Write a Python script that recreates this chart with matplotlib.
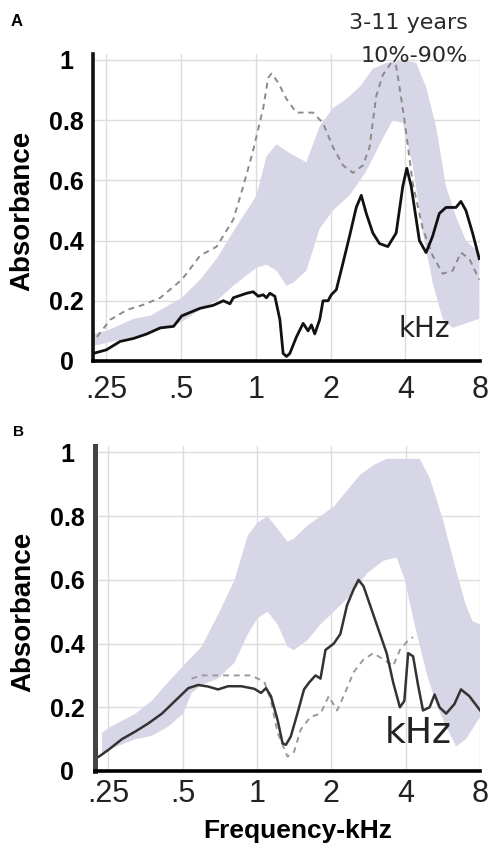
import numpy as np
import matplotlib
matplotlib.use('Agg')
import matplotlib.pyplot as plt

plt.rcParams['font.family'] = ['Liberation Sans', 'DejaVu Sans']

# frequency ticks (kHz)
tick_f = [0.25, 0.5, 1, 2, 4, 8]
tick_lbl = ['.25', '.5', '1', '2', '4', '8']
y_ticks = [0, 0.2, 0.4, 0.6, 0.8, 1]
y_lbl = ['0', '0.2', '0.4', '0.6', '0.8', '1']

# ---- panel A ----
a_hi_f = [0.221, 0.25, 0.322, 0.375, 0.503, 0.596, 0.695, 0.811, 1.006, 1.103, 1.211, 1.369,
          1.597, 1.806, 2.044, 2.312, 2.615, 2.957, 3.345, 3.964, 4.415, 4.843, 5.311, 5.825,
          6.391, 7.007, 7.928]
a_hi = [0.09, 0.10, 0.14, 0.15, 0.21, 0.27, 0.34, 0.43, 0.55, 0.68, 0.72, 0.69,
        0.66, 0.78, 0.84, 0.87, 0.91, 0.97, 0.99, 1.0, 0.99, 0.91, 0.78, 0.58,
        0.48, 0.40, 0.36]
a_lo_f = [0.221, 0.25, 0.322, 0.438, 0.503, 0.596, 0.695, 0.811, 1.006, 1.103, 1.211, 1.328,
          1.412, 1.597, 1.806, 2.044, 2.383, 2.782, 3.244, 3.558, 3.903, 4.28, 4.695, 5.149,
          5.649, 6.195, 7.007, 7.928]
a_lo = [0.05, 0.06, 0.08, 0.11, 0.13, 0.17, 0.20, 0.25, 0.31, 0.32, 0.30, 0.25,
        0.26, 0.30, 0.44, 0.50, 0.55, 0.63, 0.74, 0.80, 0.79, 0.65, 0.43, 0.26,
        0.14, 0.11, 0.125, 0.14]

a_sol_f = [0.221, 0.25, 0.284, 0.322, 0.364, 0.412, 0.466, 0.503, 0.596, 0.674, 0.739, 0.786,
           0.811, 0.918, 0.975, 1.022, 1.070, 1.103, 1.138, 1.192, 1.249, 1.287, 1.328, 1.369,
           1.456, 1.549, 1.622, 1.673, 1.725, 1.806, 1.863, 1.951, 2.012, 2.108, 2.241, 2.383,
           2.535, 2.656, 2.782, 2.957, 3.145, 3.397, 3.670, 3.903, 4.05, 4.22, 4.553, 4.843,
           5.149, 5.476, 5.825, 6.391, 6.690, 7.007, 7.454, 7.928]
a_sol = [0.025, 0.037, 0.065, 0.075, 0.09, 0.11, 0.115, 0.15, 0.175, 0.185, 0.20, 0.19,
         0.21, 0.225, 0.23, 0.215, 0.22, 0.21, 0.225, 0.215, 0.137, 0.025, 0.015, 0.025,
         0.08, 0.125, 0.10, 0.12, 0.09, 0.137, 0.20, 0.20, 0.22, 0.237, 0.325, 0.415,
         0.51, 0.55, 0.49, 0.425, 0.39, 0.38, 0.425, 0.58, 0.64, 0.58, 0.40, 0.36,
         0.415, 0.49, 0.51, 0.51, 0.53, 0.50, 0.425, 0.34]

a_dash_f = [0.229, 0.259, 0.303, 0.353, 0.412, 0.503, 0.596, 0.695, 0.811, 0.889, 0.975, 1.070,
            1.120, 1.156, 1.229, 1.328, 1.456, 1.698, 1.863, 2.044, 2.241, 2.459, 2.697, 2.868,
            3.050, 3.244, 3.504, 3.670, 3.785, 3.964, 4.28, 4.695, 5.149, 5.649, 6.195, 6.690,
            7.226, 7.928]
a_dash = [0.08, 0.137, 0.17, 0.187, 0.21, 0.27, 0.35, 0.38, 0.47, 0.58, 0.70, 0.84,
          0.94, 0.955, 0.925, 0.87, 0.825, 0.825, 0.79, 0.71, 0.65, 0.625, 0.65, 0.71,
          0.88, 0.95, 0.99, 0.98, 0.91, 0.80, 0.59, 0.44, 0.35, 0.29, 0.30, 0.36,
          0.34, 0.27]

# ---- panel B ----
b_hi_f = [0.236, 0.25, 0.322, 0.375, 0.438, 0.503, 0.596, 0.695, 0.811, 0.918, 1.006, 1.103,
          1.211, 1.328, 1.412, 1.597, 1.806, 2.044, 2.312, 2.615, 2.957, 3.345, 3.964, 4.553,
          5.0, 5.649, 6.391, 7.007, 7.454, 8.0]
b_hi = [0.12, 0.135, 0.18, 0.22, 0.28, 0.33, 0.39, 0.49, 0.60, 0.74, 0.78, 0.80,
        0.76, 0.72, 0.73, 0.77, 0.80, 0.83, 0.88, 0.93, 0.96, 0.98, 0.98, 0.98,
        0.92, 0.79, 0.63, 0.52, 0.47, 0.46]
b_lo_f = [0.236, 0.25, 0.322, 0.375, 0.438, 0.503, 0.543, 0.596, 0.695, 0.811, 0.918, 1.006,
          1.103, 1.211, 1.328, 1.412, 1.597, 1.806, 2.044, 2.383, 2.782, 3.244, 3.670, 3.964,
          4.28, 4.843, 5.311, 5.825, 6.391, 7.007, 8.0]
b_lo = [0.05, 0.066, 0.10, 0.11, 0.14, 0.18, 0.245, 0.27, 0.29, 0.34, 0.43, 0.48,
        0.50, 0.46, 0.39, 0.38, 0.41, 0.46, 0.50, 0.55, 0.62, 0.66, 0.67, 0.60,
        0.48, 0.31, 0.21, 0.14, 0.077, 0.10, 0.17]

b_sol_f = [0.229, 0.25, 0.284, 0.322, 0.364, 0.412, 0.466, 0.527, 0.578, 0.634, 0.695, 0.763,
           0.863, 0.975, 1.038, 1.087, 1.138, 1.211, 1.268, 1.308, 1.369, 1.456, 1.549, 1.622,
           1.725, 1.806, 1.892, 2.044, 2.173, 2.312, 2.459, 2.574, 2.697, 2.868, 3.145, 3.345,
           3.558, 3.785, 3.945, 4.087, 4.28, 4.482, 4.695, 4.993, 5.23, 5.476, 5.825, 6.29,
           6.69, 7.226, 8.0]
b_sol = [0.045, 0.066, 0.10, 0.124, 0.15, 0.18, 0.22, 0.26, 0.27, 0.265, 0.256, 0.266,
         0.266, 0.258, 0.245, 0.26, 0.235, 0.16, 0.087, 0.082, 0.108, 0.18, 0.256, 0.277,
         0.30, 0.29, 0.38, 0.40, 0.43, 0.52, 0.57, 0.60, 0.58, 0.52, 0.43, 0.37,
         0.277, 0.20, 0.22, 0.37, 0.36, 0.27, 0.19, 0.20, 0.24, 0.20, 0.18, 0.21,
         0.256, 0.235, 0.19]

b_dash_f = [0.543, 0.596, 0.695, 0.811, 0.946, 1.07, 1.138, 1.211, 1.328, 1.412, 1.502, 1.647,
            1.806, 1.951, 2.108, 2.241, 2.459, 2.697, 2.957, 3.244, 3.558, 3.785, 4.087, 4.28]
b_dash = [0.29, 0.30, 0.30, 0.30, 0.30, 0.28, 0.22, 0.12, 0.045, 0.06, 0.13, 0.17,
          0.18, 0.235, 0.19, 0.235, 0.31, 0.35, 0.37, 0.35, 0.33, 0.38, 0.41, 0.42]

band_color = '#d6d6e6'

fig = plt.figure(figsize=(4.9, 8.46), dpi=100)
axA = fig.add_axes([0.190, 0.5733, 0.790, 0.3630])
axB = fig.add_axes([0.194, 0.0887, 0.786, 0.3840])


def style_axes(ax, lw_left, left_color, xpad, ypad):
    ax.set_xscale('log')
    ax.set_xlim(0.221, 8.0)
    ax.set_ylim(0, 1.02)
    ax.set_xticks(tick_f)
    ax.set_xticklabels(tick_lbl, fontsize=22, color='#222222')
    ax.set_yticks(y_ticks)
    ax.set_yticklabels(y_lbl, fontsize=18, fontweight='bold', ha='center')
    ax.minorticks_off()
    ax.tick_params(axis='x', length=0, pad=xpad)
    ax.tick_params(axis='y', length=0, pad=ypad)
    ax.grid(True, color='#dcdcdc', lw=1.0)
    ax.set_axisbelow(True)
    for s in ['top', 'right']:
        ax.spines[s].set_visible(False)
    ax.spines['bottom'].set_linewidth(2.6)
    ax.spines['left'].set_linewidth(lw_left)
    ax.spines['left'].set_color(left_color)


# panel A
axA.fill(a_hi_f + a_lo_f[::-1], a_hi + a_lo[::-1], color=band_color, lw=0, zorder=1)
axA.plot(a_dash_f, a_dash, color='#8a8a8a', lw=1.4, ls=(0, (3, 2.5)), zorder=2)
axA.plot(a_sol_f, a_sol, color='#111111', lw=2.0, zorder=3)
style_axes(axA, 2.6, '#111111', 10, 19)
axA.text(4.77, 0.107, 'kHz', fontsize=20, color='#222222', family='DejaVu Sans',
         ha='center', va='center', zorder=4)
fig.text(22 / 490, 1 - 211 / 846, 'Absorbance', fontsize=20, fontweight='bold',
         rotation=90, ha='center', va='center')
fig.text(468 / 490, 1 - 23 / 846, '3-11 years', fontsize=16, color='#2a2a2a',
         family='DejaVu Sans', ha='right', va='center')
fig.text(468 / 490, 1 - 56 / 846, '10%-90%', fontsize=16, color='#2a2a2a',
         family='DejaVu Sans', ha='right', va='center')
fig.text(17 / 490, 1 - 22 / 846, 'A', fontsize=12, fontweight='bold', ha='center', va='center')

# panel B
axB.fill(b_hi_f + b_lo_f[::-1], b_hi + b_lo[::-1], color=band_color, lw=0, zorder=1)
axB.plot(b_dash_f, b_dash, color='#9a9a9a', lw=1.4, ls=(0, (3, 2.5)), zorder=2)
axB.plot(b_sol_f, b_sol, color='#333333', lw=1.8, zorder=3)
style_axes(axB, 3.6, '#444444', 6, 20)
axB.text(4.5, 0.12, 'kHz', fontsize=26, color='#222222', family='DejaVu Sans',
         ha='center', va='center', zorder=4)
fig.text(23 / 490, 1 - 612 / 846, 'Absorbance', fontsize=20, fontweight='bold',
         rotation=90, ha='center', va='center')
fig.text(298 / 490, 1 - 831 / 846, 'Frequency-kHz', fontsize=19, fontweight='bold',
         ha='center', va='center')
fig.text(18 / 490, 1 - 432 / 846, 'B', fontsize=11, fontweight='bold', ha='center', va='center')

fig.savefig('out.png', dpi=100, facecolor='white')
